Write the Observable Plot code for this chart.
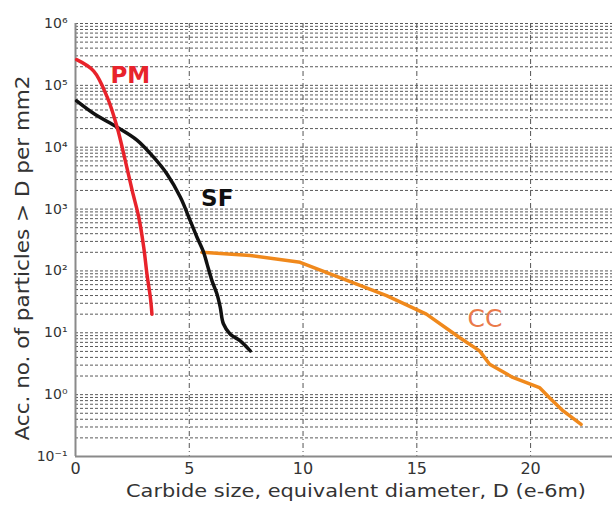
<!DOCTYPE html>
<html><head><meta charset="utf-8">
<script src="https://cdn.jsdelivr.net/npm/d3@7"></script>
<script src="https://cdn.jsdelivr.net/npm/@observablehq/plot@0.6"></script>
<style>
body{margin:0;background:#fff;}
#chart{width:614px;height:506px;}
</style>
</head><body><div id="chart"></div>
<script>
// Data
const pmX = [0.05, 0.8, 1.39, 1.83, 2.19, 2.49, 2.78, 3.0, 3.14, 3.29, 3.36];
const pmY = [2.6e5, 1.7e5, 6.5e4, 2.1e4, 6000, 2000, 740, 240, 89, 37, 20];
const sfX = [0.05, 0.8, 1.83, 2.7, 3.43, 4.02, 4.61, 5.04, 5.34, 5.63, 5.78, 6.0, 6.21, 6.36, 6.5, 6.8, 7.24, 7.68];
const sfY = [5.6e4, 3.5e4, 2.1e4, 1.3e4, 6900, 3700, 1550, 650, 350, 200, 130, 69, 43, 26, 14, 9.5, 7.4, 5.1];
const ccX = [5.56, 7.68, 9.87, 11.62, 13.67, 15.42, 16.89, 17.76, 18.2, 19.22, 20.39, 20.83, 21.42, 22.22];
const ccY = [200, 178, 138, 78, 40, 20, 8.3, 5.1, 3.1, 1.9, 1.3, 0.89, 0.55, 0.33];

const seriesNames = ["PM", "SF", "CC"];
const labelX = [2.41, 6.23, 18.0];
const labelY = [1.45e5, 1500, 17];

const xTicks = [0, 5, 10, 15, 20];
const yTicks = [1e-1, 1e0, 1e1, 1e2, 1e3, 1e4, 1e5, 1e6];
const yTickLabels = ["10⁻¹", "10⁰", "10¹", "10²", "10³", "10⁴", "10⁵", "10⁶"];
const xLabel = "Carbide size, equivalent diameter, D (e-6m)";
const yLabel = "Acc. no. of particles > D per mm2";

const colors = {PM: "#e8232b", SF: "#111111", CC: "#f0891c"};
const labelColors = {PM: "#e8232b", SF: "#111111", CC: "#ea7a4a"};

const toRows = (name, xs, ys) => xs.map((x, i) => ({name, x, y: ys[i]}));
const pm = toRows("PM", pmX, pmY);
const sf = toRows("SF", sfX, sfY);
const cc = toRows("CC", ccX, ccY);
const labels = seriesNames.map((n, i) => ({name: n, x: labelX[i], y: labelY[i]}));

// grid values: 1..9 within each decade
const minorGrid = [];
for (let i = 0; i < yTicks.length - 1; i++) for (let k = 1; k <= 9; k++) minorGrid.push(yTicks[i] * k);
minorGrid.push(yTicks[yTicks.length - 1]);

const chart = Plot.plot({
  width: 614, height: 506,
  marginLeft: 75, marginRight: 2, marginTop: 23, marginBottom: 50,
  style: {fontFamily: "'DejaVu Sans', sans-serif", background: "#fff"},
  x: {domain: [0, 23.6]},
  y: {type: "log", domain: [0.1, 1e6]},
  marks: [
    Plot.ruleY(minorGrid.filter(v => v > 0.1), {stroke: "#5a5a5a", strokeWidth: 1, strokeDasharray: "3,2"}),
    Plot.ruleX(xTicks.filter(v => v > 0), {stroke: "#555", strokeWidth: 1, strokeDasharray: "5,3,1,3"}),
    Plot.ruleX([0], {stroke: "#8a8a8a", strokeWidth: 2}),
    Plot.ruleY([0.1], {stroke: "#8a8a8a", strokeWidth: 2}),
    Plot.axisY({ticks: yTicks, tickFormat: (d) => yTickLabels[yTicks.indexOf(d)], tickSize: 0, tickPadding: 8, fontSize: 14, label: null, fill: "#333"}),
    Plot.axisX({ticks: xTicks, tickSize: 0, tickPadding: 6, fontSize: 16, label: null, fill: "#333"}),
    Plot.line(cc, {x: "x", y: "y", stroke: colors.CC, strokeWidth: 3.5, curve: "linear"}),
    Plot.line(sf, {x: "x", y: "y", stroke: colors.SF, strokeWidth: 3.5, curve: "catmull-rom"}),
    Plot.line(pm, {x: "x", y: "y", stroke: colors.PM, strokeWidth: 3.5, curve: "catmull-rom"}),
    Plot.text(labels.filter(d => d.name !== "CC"), {x: "x", y: "y", text: "name", fill: d => labelColors[d.name], fontSize: 23, fontWeight: "bold"}),
    Plot.text(labels.filter(d => d.name === "CC"), {x: "x", y: "y", text: "name", fill: d => labelColors[d.name], fontSize: 25, fontWeight: "normal"}),
    Plot.text([xLabel], {frameAnchor: "bottom", dy: 40, dx: 12, fontSize: 18, fill: "#333", className: "xlab"}),
    Plot.text([yLabel], {frameAnchor: "left", textAnchor: "middle", dx: -53, dy: 18, rotate: -90, fontSize: 19, fill: "#333", className: "ylab"})
  ]
});
document.getElementById("chart").appendChild(chart);
// stretch axis titles to the reference's text extents
const xl = chart.querySelector("g.xlab text");
if (xl) { xl.setAttribute("textLength", 460); xl.setAttribute("lengthAdjust", "spacingAndGlyphs"); }
const yl = chart.querySelector("g.ylab text");
if (yl) { yl.setAttribute("textLength", 365); yl.setAttribute("lengthAdjust", "spacingAndGlyphs"); }
</script>
</body></html>
